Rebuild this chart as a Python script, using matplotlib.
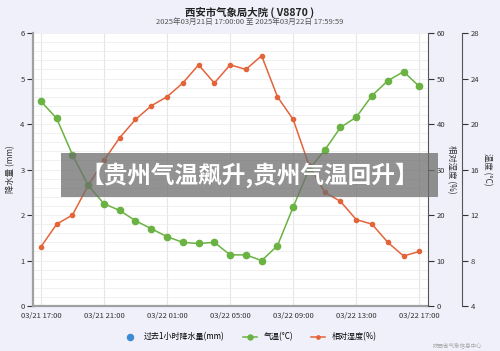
import numpy as np
import matplotlib
matplotlib.use("Agg")
import matplotlib.pyplot as plt
from matplotlib.patches import Rectangle
from matplotlib.ticker import MultipleLocator

plt.rcParams['font.family'] = ['Noto Sans CJK SC', 'DejaVu Sans']

# hours since 03/21 17:00
hours = list(range(25))
tick_hours = [0, 4, 8, 12, 16, 20, 24]
tick_labels = ['03/21 17:00', '03/21 21:00', '03/22 01:00', '03/22 05:00',
               '03/22 09:00', '03/22 13:00', '03/22 17:00']

precip = []  # no rainfall recorded
precip_hours = []
temperature = [22.0, 20.5, 17.3, 14.6, 13.0, 12.4, 11.5, 10.8, 10.1, 9.6, 9.5, 9.6, 8.5,
               8.5, 8.0, 9.3, 12.7, 16.0, 17.7, 19.7, 20.6, 22.5, 23.8, 24.6, 23.3]
humidity = [13, 18, 20, 26.5, 32, 37, 41, 44, 46, 49, 53, 49, 53,
            52, 55, 46, 41, 31, 25, 23, 19, 18, 14, 11, 12]

GREEN = '#6ab343'
ORANGE = '#e4643a'
BLUE = '#3d8bd4'

fig = plt.figure(figsize=(5, 3.51), dpi=100)
fig.patch.set_facecolor('#eff0fa')
ax = fig.add_axes([0.066, 0.128, 0.79, 0.778])
ax.set_facecolor('white')

ax_h = ax.twinx()
ax_t = ax.twinx()
# 'outward' is in points: 34 px at 100 dpi
ax_t.spines['right'].set_position(('outward', 34 * 72 / 100))

# precipitation axis
ax.set_xlim(-0.5, 24.55)
ax.set_ylim(0, 6)
ax.yaxis.set_major_locator(MultipleLocator(1))
ax.yaxis.set_minor_locator(MultipleLocator(0.2))
ax.set_xticks(tick_hours)
ax.set_xticklabels(tick_labels)
ax.grid(True, which='major', axis='x', color='#e6e6e6', linewidth=0.8)
ax.grid(True, which='both', axis='y', color='#eeeeee', linewidth=0.6)
ax.set_axisbelow(True)
ax.tick_params(axis='x', length=0, pad=4, labelsize=5.5, colors='#333333')
ax.tick_params(axis='y', which='major', length=4, width=0.8, labelsize=5.5,
               colors='#333333', pad=2)
ax.tick_params(axis='y', which='minor', length=0)
ax.set_ylabel('降水量 (mm)', fontsize=6, color='#333333', labelpad=4)
for side in ['left', 'bottom']:
    ax.spines[side].set_color('#a0a0a0')
    ax.spines[side].set_linewidth(1.6)
ax.spines['top'].set_visible(False)
ax.spines['right'].set_visible(False)
p_rain = ax.scatter(precip_hours, precip, s=30, color=BLUE, label='过去1小时降水量(mm)')

# humidity axis
ax_h.set_ylim(0, 60)
ax_h.set_yticks([0, 10, 20, 30, 40, 50, 60])
ax_h.tick_params(axis='y', length=4, width=0.8, labelsize=5.5, colors='#333333', pad=2)
ax_h.set_ylabel('相对湿度 (%)', fontsize=6, rotation=270, labelpad=8, color='#333333')
ax_h.spines['right'].set_color('#555555')
for side in ['left', 'top', 'bottom']:
    ax_h.spines[side].set_visible(False)
l_hum, = ax_h.plot(hours, humidity, color=ORANGE, linewidth=1.1, marker='o',
                   markersize=3, label='相对湿度(%)', zorder=3)

# temperature axis
ax_t.set_ylim(4, 28)
ax_t.set_yticks([4, 8, 12, 16, 20, 24, 28])
ax_t.tick_params(axis='y', length=4, width=0.8, labelsize=5.5, colors='#333333', pad=2)
ax_t.spines['right'].set_color('#555555')
for side in ['left', 'top', 'bottom']:
    ax_t.spines[side].set_visible(False)
l_tmp, = ax_t.plot(hours, temperature, color=GREEN, linewidth=1.1, marker='o',
                   markersize=4.5, label='气温(°C)', zorder=4)
fig.text(0.975, 0.517, '温度 (°C)', rotation=270, ha='center', va='center',
         fontsize=6, color='#333333')

fig.text(0.5, 0.965, '西安市气象局大院 ( V8870 )', ha='center', va='center',
         fontsize=7.5, fontweight='bold', color='#222222')
fig.text(0.5, 0.937, '2025年03月21日 17:00:00 至 2025年03月22日 17:59:59', ha='center',
         va='center', fontsize=5.5, color='#555555')

fig.legend(handles=[p_rain, l_tmp, l_hum], loc='center', bbox_to_anchor=(0.5, 0.04),
           ncol=3, frameon=False, fontsize=5.8, handlelength=1.8, columnspacing=2.2,
           markerscale=0.8)
fig.text(0.965, 0.008, '陕西省气象信息中心', ha='right', va='bottom', fontsize=4, color='#aaaaaa')

# headline overlay banner
fig.patches.append(Rectangle((0.122, 0.439), 0.754, 0.125, transform=fig.transFigure,
                             facecolor='#6e6e6e', alpha=0.75, edgecolor='none', zorder=10))
fig.text(0.5, 0.5, '【贵州气温飙升,贵州气温回升】', ha='center', va='center', fontsize=17,
         fontweight='bold', color='white', zorder=11)

fig.savefig('out.png', dpi=100, facecolor=fig.get_facecolor())
